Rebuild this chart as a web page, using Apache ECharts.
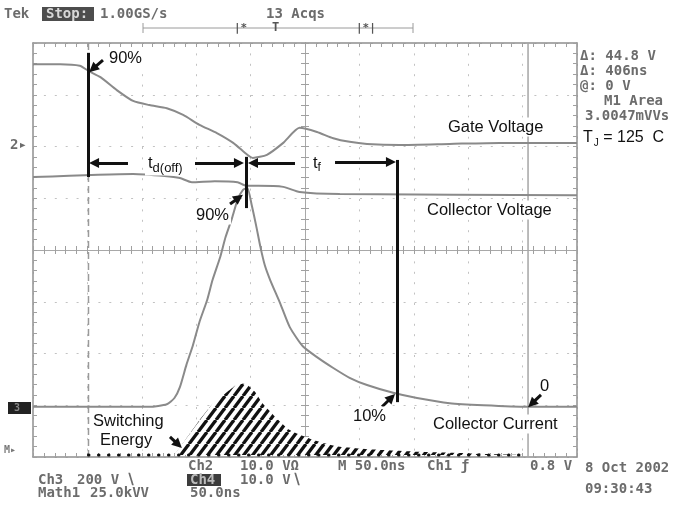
<!DOCTYPE html>
<html><head><meta charset="utf-8">
<script src="https://cdn.jsdelivr.net/npm/echarts@6/dist/echarts.min.js"></script>
<style>html,body{margin:0;padding:0;background:#fff}#c{width:696px;height:506px}</style>
</head><body><div id="c"></div>
<script>
// ---- data (x: time in ns relative to screen centre, y: divisions) ----
const gateTime = [-250,-225,-207,-199,-188,-173,-158,-143,-127,-112,-97,-81,-66,-53,-48,-35,-20,-5,11,26,41,57,87,133,179,250];
const gateVolt = [3.59,3.59,3.56,3.46,3.34,3.09,2.88,2.80,2.74,2.61,2.42,2.26,2.07,1.84,1.78,1.84,2.07,2.36,2.28,2.16,2.09,2.05,2.03,2.05,2.07,2.07];

const vceTime = [-250,-158,-129,-115,-104,-83,-62,-54,-43,-20,-5,32,250];
const vceVolt = [1.41,1.47,1.43,1.39,1.31,1.33,1.31,1.24,1.24,1.22,1.12,1.08,1.06];

const icTime = [-250,-143,-127,-120,-115,-109,-103,-97,-90,-85,-78,-73,-67,-62,-57,-53,-49,-45,-41,-37,-32,-23,-14,-2,11,26,41,57,81,103,133,164,204,250];
const icVal  = [-3.03,-3.03,-2.98,-2.86,-2.65,-2.22,-1.84,-1.39,-0.97,-0.58,-0.14,0.25,0.62,0.97,1.16,1.20,0.87,0.48,0.06,-0.29,-0.58,-1.02,-1.49,-1.86,-2.07,-2.28,-2.47,-2.61,-2.76,-2.86,-2.96,-3.00,-3.03,-3.03];

const eTime = [-120,-110,-97,-86,-75,-66,-60,-53,-46,-39,-26,-14,5,29,60,106,152,204];
const eVal  = [-3.96,-3.67,-3.29,-3.00,-2.80,-2.65,-2.57,-2.61,-2.74,-2.96,-3.25,-3.48,-3.65,-3.79,-3.85,-3.90,-3.93,-3.96];
const eBase = -3.96;
const eDotStart = -199;

const cursorA = -199;   // dashed time cursor
const cursorB = 205;    // solid time cursor

// annotation segments in data coords [x1,y1,x2,y2]
const plainSegs = [
  [-199.4, 3.81, -199.4, 1.41],
  [-54.2, 1.80, -54.2, 0.81],
  [84.6, 1.74, 84.6, -2.94]
];
const arrowSegs = [
  [-185.7, 3.67, -195.0, 3.50],
  [-162.7, 1.68, -193.9, 1.68],
  [-101.1, 1.68, -60.7, 1.68],
  [-9.2, 1.68, -47.8, 1.68],
  [27.6, 1.70, 79.0, 1.70],
  [-68.9, 0.89, -60.8, 1.01],
  [70.8, -3.03, 79.5, -2.85],
  [216.9, -2.80, 208.4, -2.97],
  [-124.1, -3.61, -116.5, -3.76]
];

const zip = (a, b) => a.map((v, i) => [v, b[i]]);

function hatchCanvas() {
  const c = document.createElement('canvas');
  c.width = 9; c.height = 12;
  const g = c.getContext('2d');
  g.fillStyle = '#fff'; g.fillRect(0, 0, 9, 12);
  g.strokeStyle = '#111'; g.lineWidth = 3.3;
  for (const o of [-9, 0, 9]) { g.beginPath(); g.moveTo(o, 12); g.lineTo(o + 9, 0); g.stroke(); }
  return c;
}

const frameColor = '#8f8f8f';
const gridColor = '#c2c2c2';
const tickColor = '#a0a0a0';

function xAx(pos, opts) {
  return Object.assign({
    type: 'value', min: -250, max: 250, interval: 50, position: pos,
    axisLine: { show: true, onZero: false, lineStyle: { color: frameColor, width: 1.5 } },
    axisTick: { show: true, inside: true, length: 4, lineStyle: { color: tickColor } },
    minorTick: { show: true, splitNumber: 5, length: 4, lineStyle: { color: tickColor } },
    axisLabel: { show: false }, splitLine: { show: false }
  }, opts);
}
function yAx(pos, opts) {
  return Object.assign({
    type: 'value', min: -4, max: 4, interval: 1, position: pos,
    axisLine: { show: true, onZero: false, lineStyle: { color: frameColor, width: 1.5 } },
    axisTick: { show: true, inside: true, length: 4, lineStyle: { color: tickColor } },
    minorTick: { show: true, splitNumber: 5, length: 4, lineStyle: { color: tickColor } },
    axisLabel: { show: false }, splitLine: { show: false }
  }, opts);
}
const centreLine = { show: true, onZero: true, onZeroAxisIndex: 0, lineStyle: { color: '#a8a8a8', width: 1 } };

const traceStyle = { color: '#8a8a8a', width: 2 };
const annFont = '16.5px "Liberation Sans", Arial, sans-serif';
const scopeFont = 'bold 14px "DejaVu Sans Mono", monospace';
const scopeCol = '#6c6c6c';

function lbl(text, x, y, bg, font) {
  return { type: 'text', x: x, y: y, z: 100,
    style: { text: text, font: font || annFont, fill: '#111', verticalAlign: 'middle',
      backgroundColor: bg ? '#fff' : null, padding: bg ? [1, 2] : 0 } };
}
function stx(text, x, y, extra) {
  return Object.assign({ type: 'text', x: x, y: y, z: 100,
    style: { text: text, font: scopeFont, fill: scopeCol, verticalAlign: 'middle' } }, extra || {});
}

const chart = echarts.init(document.getElementById('c'));
chart.setOption({
  animation: false,
  backgroundColor: '#fff',
  grid: { left: 33, right: 119, top: 43, bottom: 49, containLabel: false, outerBoundsMode: 'none' },
  xAxis: [
    xAx('bottom', { splitLine: { show: true, lineStyle: { color: gridColor, type: [2, 8.4], width: 1 } } }),
    xAx('top'),
    xAx('bottom', { axisLine: centreLine, axisTick: { show: true, inside: true, length: 4, lineStyle: { color: tickColor } } }),
    xAx('bottom', { axisLine: centreLine, axisTick: { show: true, inside: false, length: 4, lineStyle: { color: tickColor } } })
  ],
  yAxis: [
    yAx('left', { splitLine: { show: true, lineStyle: { color: gridColor, type: [2, 8.9], width: 1 } } }),
    yAx('right'),
    yAx('left', { axisLine: centreLine, axisTick: { show: true, inside: true, length: 4, lineStyle: { color: tickColor } } }),
    yAx('left', { axisLine: centreLine, axisTick: { show: true, inside: false, length: 4, lineStyle: { color: tickColor } } })
  ],
  series: [
    { name: 'cursorA', type: 'line', data: [[cursorA, -4], [cursorA, 4]], showSymbol: false,
      lineStyle: { color: '#9a9a9a', width: 1.5, type: [7, 4] }, z: 2, silent: true },
    { name: 'cursorB', type: 'line', data: [[cursorB, -4], [cursorB, 4]], showSymbol: false,
      lineStyle: { color: '#a5a5a5', width: 1.5 }, z: 2, silent: true },
    { name: 'Gate Voltage', type: 'line', data: zip(gateTime, gateVolt), showSymbol: false, smooth: 0.2, lineStyle: traceStyle, z: 3 },
    { name: 'Collector Voltage', type: 'line', data: zip(vceTime, vceVolt), showSymbol: false, smooth: 0.2, lineStyle: traceStyle, z: 3 },
    { name: 'Collector Current', type: 'line', data: zip(icTime, icVal), showSymbol: false, smooth: 0.2, lineStyle: traceStyle, z: 3 },
    { name: 'Switching Energy', type: 'line', data: zip(eTime, eVal), showSymbol: false, smooth: 0.2,
      lineStyle: { width: 0, opacity: 0 },
      areaStyle: { color: { image: hatchCanvas(), repeat: 'repeat' }, opacity: 1, origin: eBase }, z: 4 },
    { name: 'baseline', type: 'line', data: [[eDotStart, eBase], [cursorB, eBase]], showSymbol: false,
      lineStyle: { color: '#111', width: 3, type: [0.5, 9.5], cap: 'round' }, z: 5,
      markLine: { silent: true, symbol: ['none', 'none'], label: { show: false },
        lineStyle: { color: '#111', width: 3, type: 'solid' },
        data: plainSegs.map(s => [{ coord: [s[0], s[1]] }, { coord: [s[2], s[3]] }]) } },
    { name: 'arrows', type: 'line', data: [[eDotStart, eBase]], showSymbol: false, lineStyle: { width: 0 }, z: 6,
      markLine: { silent: true, symbol: ['none', 'triangle'], symbolSize: 10, label: { show: false },
        lineStyle: { color: '#111', width: 3, type: 'solid' },
        data: arrowSegs.map(s => [{ coord: [s[0], s[1]] }, { coord: [s[2], s[3]] }]) } }
  ],
  graphic: [
    // header
    stx('Tek', 4, 14),
    { type: 'rect', z: 99, shape: { x: 42, y: 7, width: 52, height: 14 }, style: { fill: '#4d4d4d' } },
    stx('Stop:', 46, 14, { style: { text: 'Stop:', font: scopeFont, fill: '#d8d8d8', verticalAlign: 'middle' } }),
    stx('1.00GS/s', 100, 14),
    stx('13 Acqs', 266, 14),
    { type: 'line', z: 99, shape: { x1: 143, y1: 28, x2: 413, y2: 28 }, style: { stroke: '#9a9a9a', lineWidth: 1 } },
    { type: 'line', z: 99, shape: { x1: 143, y1: 23, x2: 143, y2: 33 }, style: { stroke: '#9a9a9a', lineWidth: 1 } },
    { type: 'line', z: 99, shape: { x1: 413, y1: 23, x2: 413, y2: 33 }, style: { stroke: '#9a9a9a', lineWidth: 1 } },
    stx('|*', 234, 28, { style: { text: '|*', font: 'bold 11px "DejaVu Sans Mono", monospace', fill: '#555', verticalAlign: 'middle' } }),
    stx('T', 272, 28, { style: { text: 'T', font: 'bold 12px "DejaVu Sans Mono", monospace', fill: '#555', verticalAlign: 'middle' } }),
    stx('|*|', 356, 28, { style: { text: '|*|', font: 'bold 11px "DejaVu Sans Mono", monospace', fill: '#555', verticalAlign: 'middle' } }),
    // right readouts
    stx('\u0394: 44.8 V', 580, 56),
    stx('\u0394: 406ns', 580, 71),
    stx('@: 0 V', 580, 86),
    stx('M1 Area', 604, 101),
    stx('3.0047mVVs', 585, 116),
    // left markers
    stx('2\u25B8', 10, 145),
    { type: 'rect', z: 99, shape: { x: 8, y: 402, width: 23, height: 12 }, style: { fill: '#222' } },
    stx('3', 14, 408, { style: { text: '3', font: 'bold 10px "DejaVu Sans Mono", monospace', fill: '#888', verticalAlign: 'middle' } }),
    stx('M\u25B8', 4, 450, { style: { text: 'M\u25B8', font: 'bold 10px "DejaVu Sans Mono", monospace', fill: '#777', verticalAlign: 'middle' } }),
    // bottom status lines
    stx('Ch2', 188, 466), stx('10.0 V\u03A9', 240, 466), stx('M 50.0ns', 338, 466), stx('Ch1 \u0192', 427, 466), stx('0.8 V', 530, 466),
    stx('Ch3', 38, 480), stx('200 V', 77, 480), stx('\u2216', 126, 480),
    { type: 'rect', z: 99, shape: { x: 187, y: 474, width: 34, height: 12 }, style: { fill: '#3c3c3c' } },
    stx('Ch4', 190, 480, { style: { text: 'Ch4', font: scopeFont, fill: '#bbb', verticalAlign: 'middle' } }),
    stx('10.0 V', 240, 480), stx('\u2216', 292, 480),
    stx('Math1', 38, 493), stx('25.0kVV', 90, 493), stx('50.0ns', 190, 493),
    stx('8 Oct 2002', 585, 468), stx('09:30:43', 585, 489),
    // annotations
    lbl('90%', 107, 58, true),
    lbl('Gate Voltage', 446, 127, true),
    lbl('Collector Voltage', 425, 210, true),
    lbl('Collector Current', 431, 424, true),
    { type: 'text', x: 583, y: 138, z: 100, style: { text: '{a|T}{b|J}{a| = 125  C}', verticalAlign: 'middle',
      rich: { a: { font: '16px "Liberation Sans", Arial, sans-serif', fill: '#111' },
              b: { font: '10px "Liberation Sans", Arial, sans-serif', fill: '#111', padding: [10, 0, 0, 1] } } } },
    { type: 'text', x: 145, y: 163, z: 100, style: { text: '{a|t}{b|d(off)}', verticalAlign: 'middle', backgroundColor: '#fff', padding: [1, 3],
      rich: { a: { font: annFont, fill: '#111' }, b: { font: '13px "Liberation Sans", Arial, sans-serif', fill: '#111', padding: [10, 0, 0, 0] } } } },
    { type: 'text', x: 309, y: 163, z: 100, style: { text: '{a|t}{b|f}', verticalAlign: 'middle', backgroundColor: '#fff', padding: [1, 4],
      rich: { a: { font: annFont, fill: '#111' }, b: { font: '12px "Liberation Sans", Arial, sans-serif', fill: '#111', padding: [9, 0, 0, 0] } } } },
    lbl('90%', 194, 215, true),
    lbl('10%', 351, 416, true),
    lbl('0', 540, 386, false),
    lbl('Switching', 91, 421, true),
    lbl('Energy', 98, 440, true)
  ]
});
</script>
</body></html>
